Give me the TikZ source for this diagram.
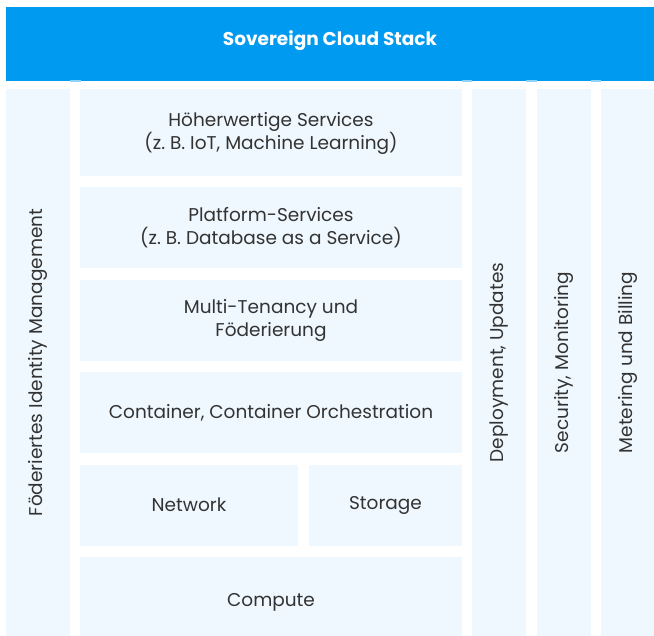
\documentclass[tikz,border=0pt]{standalone}
\usepackage{fontspec}
\setmainfont{Poppins}
\usepackage{xcolor}
\usepackage{tikz}
\usetikzlibrary{positioning}
\definecolor{scsBlue}{HTML}{009AF1}
\definecolor{layerFill}{HTML}{EFF8FE}
\definecolor{layerText}{HTML}{333333}
\definecolor{tabFill}{HTML}{8FD2F8}
\tikzset{
    header/.style={rectangle, fill=scsBlue, text=white, inner sep=0pt, minimum width=648pt, minimum height=74pt, text depth=12pt, font=\fontsize{18.5}{23}\selectfont\bfseries},
    layer/.style={rectangle, fill=layerFill, text=layerText, inner sep=0pt, align=center, minimum height=81pt, font=\fontsize{18.5}{23}\selectfont},
    pillar/.style={rectangle, fill=layerFill, text=layerText, inner sep=0pt, align=center, minimum height=547pt, font=\fontsize{18.5}{23}\selectfont},
    vlabel/.style={rotate=90, text=layerText, inner sep=0pt, font=\fontsize{18.5}{23}\selectfont},
    tab/.style={rectangle, fill=tabFill, inner sep=0pt, minimum width=10pt, minimum height=1.5pt}
}
\begin{document}
\begin{tikzpicture}[node distance=11pt]
        \useasboundingbox (0pt,0pt) rectangle (654pt,-636pt);

        % Header
        \node[header] (Stack) at (330pt,-44pt) {Sovereign Cloud Stack};

        % Stack layers
        \node[layer, minimum width=382pt, minimum height=87pt, text depth=3pt] (Higher) at (271pt,-132.5pt) {H\"oherwertige Services\\(z.~B. IoT, Machine Learning)};
        \node[layer, minimum width=382pt, below=of Higher] (Platform) {Platform-Services\\(z.~B. Database as a Service)};
        \node[layer, minimum width=382pt, below=of Platform] (Tenancy) {Multi-Tenancy und\\F\"oderierung};
        \node[layer, minimum width=382pt, below=of Tenancy] (Container) {Container, Container Orchestration};
        \node[layer, minimum width=218pt, below=of Container.south west, anchor=north west] (Network) {Network};
        \node[layer, minimum width=153pt, below=of Container.south east, anchor=north east] (Storage) {Storage};
        \node[layer, minimum width=382pt, minimum height=90pt, below=of Network.south west, anchor=north west] (Compute) {Compute};

        % Pillars
        \node[pillar, minimum width=64pt] (Identity) at (38pt,-362.5pt) {};
        \node[pillar, minimum width=54pt] (Deploy) at (499pt,-362.5pt) {};
        \node[pillar, minimum width=54pt] (Security) at (564pt,-362.5pt) {};
        \node[pillar, minimum width=53pt] (Metering) at (627.5pt,-362.5pt) {};
        \node[vlabel] (IdentityText) at (Identity) {F\"oderiertes Identity Management};
        \node[vlabel] (DeployText) at (Deploy) {Deployment, Updates};
        \node[vlabel] (SecurityText) at (Security) {Security, Monitoring};
        \node[vlabel] (MeteringText) at (Metering) {Metering und Billing};

        % Tabs under the header
        \node[tab, minimum width=11pt] (TabA) at (75pt,-81pt) {};
        \node[tab] (TabB) at (467pt,-81pt) {};
        \node[tab, minimum width=11pt] (TabC) at (531.5pt,-81pt) {};
        \node[tab] (TabD) at (596pt,-81pt) {};

    \end{tikzpicture}
\end{document}
